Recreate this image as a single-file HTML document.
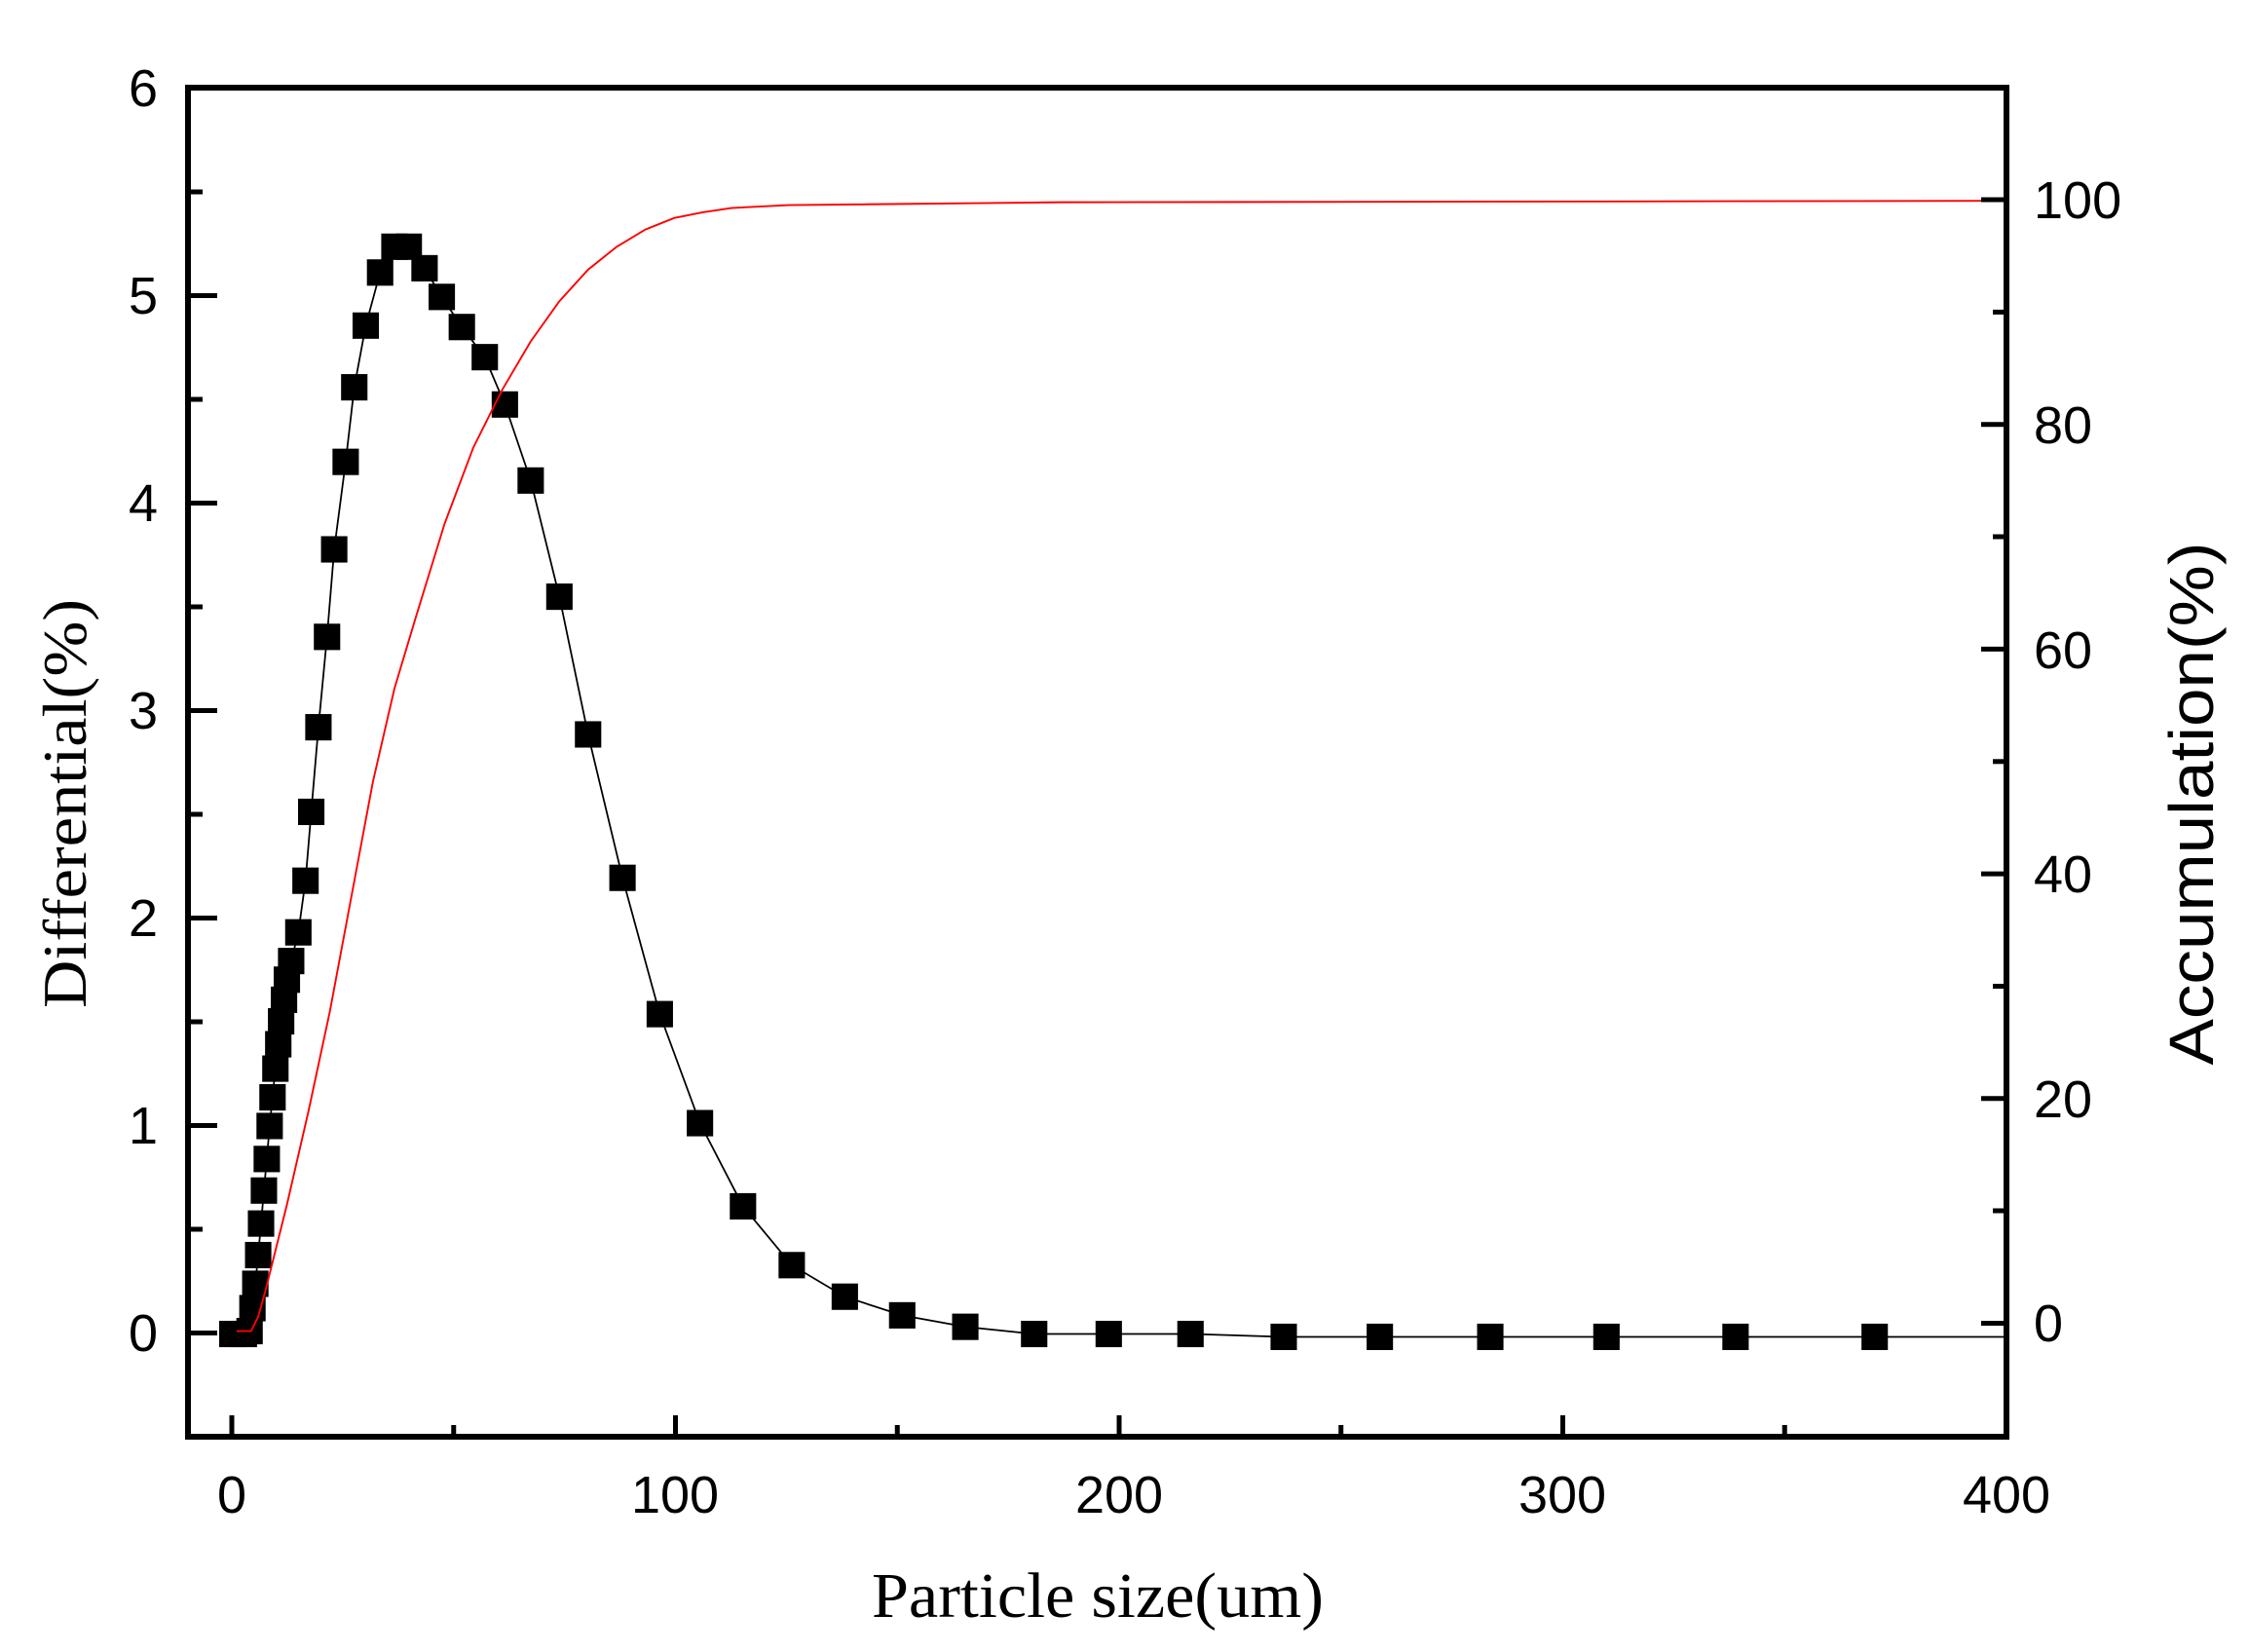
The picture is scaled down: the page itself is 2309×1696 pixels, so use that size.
<!DOCTYPE html>
<html><head><meta charset="utf-8"><style>html,body{margin:0;padding:0;background:#fff}svg{display:block}</style></head>
<body>
<svg width="2309" height="1696" viewBox="0 0 2309 1696" xmlns="http://www.w3.org/2000/svg">
<rect width="2309" height="1696" fill="#fff"/>
<g transform="scale(1.4726)">
<polyline fill="none" stroke="#000" stroke-width="1.2" points="162,930 170,930 174,928 176,912 178,895 180,875 182,853 184,830 186,808 188,785 190,765 192,745 194,728 196,712 198,697 200,683 203,670 208,650 213,614 217,566 222,507 228,444 233,383 241,322 247,270 255,227 265,190 275,172 285,172 296,187 308,207 322,228 338,249 352,282 370,335 390,416 410,512 434,612 460,707 488,783 518,841 552,882 589,904 629,917 673,925 721,930 773,930 830,930 895,932 962,932 1039,932 1120,932 1210,932 1307,932 1399,932"/>
<g fill="#000">
<rect x="152.8" y="920.8" width="18.4" height="18.4"/>
<rect x="160.8" y="920.8" width="18.4" height="18.4"/>
<rect x="164.8" y="918.8" width="18.4" height="18.4"/>
<rect x="166.8" y="902.8" width="18.4" height="18.4"/>
<rect x="168.8" y="885.8" width="18.4" height="18.4"/>
<rect x="170.8" y="865.8" width="18.4" height="18.4"/>
<rect x="172.8" y="843.8" width="18.4" height="18.4"/>
<rect x="174.8" y="820.8" width="18.4" height="18.4"/>
<rect x="176.8" y="798.8" width="18.4" height="18.4"/>
<rect x="178.8" y="775.8" width="18.4" height="18.4"/>
<rect x="180.8" y="755.8" width="18.4" height="18.4"/>
<rect x="182.8" y="735.8" width="18.4" height="18.4"/>
<rect x="184.8" y="718.8" width="18.4" height="18.4"/>
<rect x="186.8" y="702.8" width="18.4" height="18.4"/>
<rect x="188.8" y="687.8" width="18.4" height="18.4"/>
<rect x="190.8" y="673.8" width="18.4" height="18.4"/>
<rect x="193.8" y="660.8" width="18.4" height="18.4"/>
<rect x="198.8" y="640.8" width="18.4" height="18.4"/>
<rect x="203.8" y="604.8" width="18.4" height="18.4"/>
<rect x="207.8" y="556.8" width="18.4" height="18.4"/>
<rect x="212.8" y="497.8" width="18.4" height="18.4"/>
<rect x="218.8" y="434.8" width="18.4" height="18.4"/>
<rect x="223.8" y="373.8" width="18.4" height="18.4"/>
<rect x="231.8" y="312.8" width="18.4" height="18.4"/>
<rect x="237.8" y="260.8" width="18.4" height="18.4"/>
<rect x="245.8" y="217.8" width="18.4" height="18.4"/>
<rect x="255.8" y="180.8" width="18.4" height="18.4"/>
<rect x="265.8" y="162.8" width="18.4" height="18.4"/>
<rect x="275.8" y="162.8" width="18.4" height="18.4"/>
<rect x="286.8" y="177.8" width="18.4" height="18.4"/>
<rect x="298.8" y="197.8" width="18.4" height="18.4"/>
<rect x="312.8" y="218.8" width="18.4" height="18.4"/>
<rect x="328.8" y="239.8" width="18.4" height="18.4"/>
<rect x="342.8" y="272.8" width="18.4" height="18.4"/>
<rect x="360.8" y="325.8" width="18.4" height="18.4"/>
<rect x="380.8" y="406.8" width="18.4" height="18.4"/>
<rect x="400.8" y="502.8" width="18.4" height="18.4"/>
<rect x="424.8" y="602.8" width="18.4" height="18.4"/>
<rect x="450.8" y="697.8" width="18.4" height="18.4"/>
<rect x="478.8" y="773.8" width="18.4" height="18.4"/>
<rect x="508.8" y="831.8" width="18.4" height="18.4"/>
<rect x="542.8" y="872.8" width="18.4" height="18.4"/>
<rect x="579.8" y="894.8" width="18.4" height="18.4"/>
<rect x="619.8" y="907.8" width="18.4" height="18.4"/>
<rect x="663.8" y="915.8" width="18.4" height="18.4"/>
<rect x="711.8" y="920.8" width="18.4" height="18.4"/>
<rect x="763.8" y="920.8" width="18.4" height="18.4"/>
<rect x="820.8" y="920.8" width="18.4" height="18.4"/>
<rect x="885.8" y="922.8" width="18.4" height="18.4"/>
<rect x="952.8" y="922.8" width="18.4" height="18.4"/>
<rect x="1029.8" y="922.8" width="18.4" height="18.4"/>
<rect x="1110.8" y="922.8" width="18.4" height="18.4"/>
<rect x="1200.8" y="922.8" width="18.4" height="18.4"/>
<rect x="1297.8" y="922.8" width="18.4" height="18.4"/>
</g>
<polyline fill="none" stroke="#f00" stroke-width="1.3" points="165,928 175,928 180,918 185,900 192,872 200,840 215,775 230,705 245,625 260,545 275,480 290,430 310,365 330,312 350,272 370,238 390,210 410,188 430,172 450,160 470,152 490,148 510,145 550,143 740,141 1399,140"/>
</g>
<rect x="193" y="90" width="1867" height="1385" stroke="#000" stroke-width="6" fill="none"/>
<g stroke="#000" stroke-width="5">
<line x1="193" y1="1368.5" x2="223" y2="1368.5"/>
<line x1="193" y1="1262" x2="208" y2="1262"/>
<line x1="193" y1="1155.5" x2="223" y2="1155.5"/>
<line x1="193" y1="1049" x2="208" y2="1049"/>
<line x1="193" y1="942.5" x2="223" y2="942.5"/>
<line x1="193" y1="836" x2="208" y2="836"/>
<line x1="193" y1="729.5" x2="223" y2="729.5"/>
<line x1="193" y1="623" x2="208" y2="623"/>
<line x1="193" y1="516.5" x2="223" y2="516.5"/>
<line x1="193" y1="410" x2="208" y2="410"/>
<line x1="193" y1="303.5" x2="223" y2="303.5"/>
<line x1="193" y1="197" x2="208" y2="197"/>
<line x1="2060" y1="1358.5" x2="2034" y2="1358.5"/>
<line x1="2060" y1="1243" x2="2046" y2="1243"/>
<line x1="2060" y1="1127.8" x2="2034" y2="1127.8"/>
<line x1="2060" y1="1012.5" x2="2046" y2="1012.5"/>
<line x1="2060" y1="897.1" x2="2034" y2="897.1"/>
<line x1="2060" y1="781.8" x2="2046" y2="781.8"/>
<line x1="2060" y1="666.4" x2="2034" y2="666.4"/>
<line x1="2060" y1="551" x2="2046" y2="551"/>
<line x1="2060" y1="435.7" x2="2034" y2="435.7"/>
<line x1="2060" y1="320.4" x2="2046" y2="320.4"/>
<line x1="2060" y1="205" x2="2034" y2="205"/>
<line x1="238" y1="1475" x2="238" y2="1453"/>
<line x1="465.75" y1="1475" x2="465.75" y2="1463"/>
<line x1="693.5" y1="1475" x2="693.5" y2="1453"/>
<line x1="921.25" y1="1475" x2="921.25" y2="1463"/>
<line x1="1149" y1="1475" x2="1149" y2="1453"/>
<line x1="1376.75" y1="1475" x2="1376.75" y2="1463"/>
<line x1="1604.5" y1="1475" x2="1604.5" y2="1453"/>
<line x1="1832.25" y1="1475" x2="1832.25" y2="1463"/>
</g>
<g font-family="Liberation Sans, sans-serif" font-size="54" fill="#000">
<g text-anchor="end">
<text x="162" y="109">6</text><text x="162" y="322">5</text><text x="162" y="535">4</text><text x="162" y="748">3</text><text x="162" y="961">2</text><text x="162" y="1174">1</text><text x="162" y="1387">0</text>
</g>
<g text-anchor="start">
<text x="2088" y="224">100</text><text x="2088" y="455">80</text><text x="2088" y="686">60</text><text x="2088" y="916">40</text><text x="2088" y="1147">20</text><text x="2088" y="1377">0</text>
</g>
<g text-anchor="middle">
<text x="238" y="1553">0</text><text x="693" y="1553">100</text><text x="1149" y="1553">200</text><text x="1604" y="1553">300</text><text x="2060" y="1553">400</text>
</g>
</g>
<text x="1127" y="1660" text-anchor="middle" font-family="Liberation Serif, serif" font-size="66" textLength="464" lengthAdjust="spacingAndGlyphs">Particle size(um)</text>
<text transform="translate(88,825) rotate(-90)" text-anchor="middle" font-family="Liberation Serif, serif" font-size="64" textLength="420" lengthAdjust="spacingAndGlyphs">Differential(%)</text>
<text transform="translate(2272,825) rotate(-90)" text-anchor="middle" font-family="Liberation Sans, sans-serif" font-size="64" textLength="537" lengthAdjust="spacingAndGlyphs">Accumulation(%)</text>
</svg>
</body></html>
